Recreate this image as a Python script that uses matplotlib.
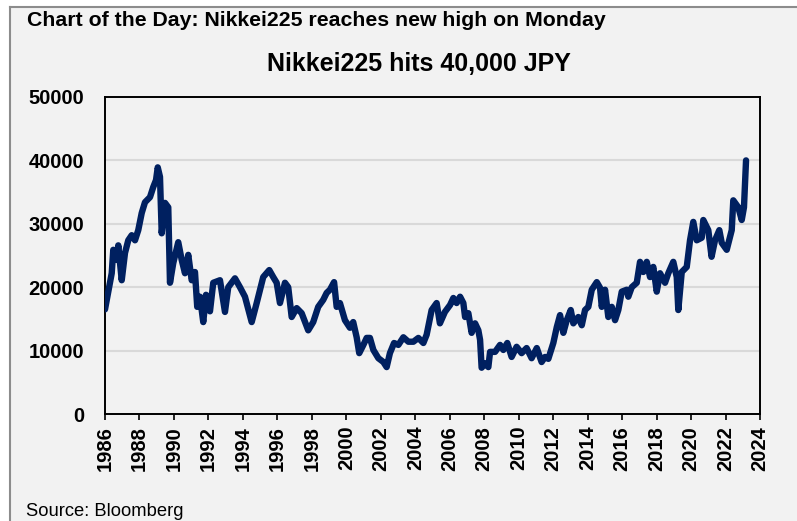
import matplotlib.pyplot as plt
from matplotlib.patches import Rectangle
from matplotlib.lines import Line2D

plt.rcParams["font.family"] = ["Liberation Sans", "DejaVu Sans"]

# ----------------------------------------------------------------------
# Data (decimal year on the chart axis, index level)
# ----------------------------------------------------------------------
years = [
    1986.00, 1986.17, 1986.39, 1986.48, 1986.68, 1986.77, 1986.97, 1987.16,
    1987.35, 1987.55, 1987.74, 1987.93, 1988.13, 1988.32, 1988.61, 1988.80,
    1988.96, 1989.06, 1989.19, 1989.29, 1989.48, 1989.67, 1989.77, 1989.96,
    1990.25, 1990.45, 1990.64, 1990.83, 1991.03, 1991.22, 1991.35, 1991.51,
    1991.70, 1991.86, 1992.09, 1992.28, 1992.67, 1992.96, 1993.15, 1993.54,
    1993.83, 1994.12, 1994.51, 1994.80, 1995.18, 1995.53, 1995.76, 1995.96,
    1996.15, 1996.44, 1996.63, 1996.83, 1997.12, 1997.41, 1997.79, 1998.08,
    1998.37, 1998.66, 1998.86, 1999.05, 1999.29, 1999.44, 1999.63, 1999.92,
    2000.21, 2000.40, 2000.60, 2000.75, 2000.99, 2001.18, 2001.37, 2001.57,
    2001.86, 2002.15, 2002.34, 2002.53, 2002.77, 2003.02, 2003.31, 2003.60,
    2003.89, 2004.18, 2004.47, 2004.66, 2004.85, 2004.95, 2005.24, 2005.43,
    2005.72, 2006.02, 2006.21, 2006.40, 2006.60, 2006.79, 2006.89, 2007.08,
    2007.27, 2007.47, 2007.66, 2007.76, 2007.85, 2008.05, 2008.24, 2008.34,
    2008.63, 2008.92, 2009.11, 2009.34, 2009.59, 2009.88, 2010.17, 2010.46,
    2010.75, 2011.05, 2011.33, 2011.53, 2011.72, 2012.01, 2012.21, 2012.40,
    2012.59, 2012.79, 2013.02, 2013.17, 2013.46, 2013.66, 2013.85, 2014.04,
    2014.24, 2014.53, 2014.72, 2014.82, 2015.01, 2015.20, 2015.40, 2015.59,
    2015.78, 2015.98, 2016.27, 2016.36, 2016.56, 2016.85, 2017.04, 2017.23,
    2017.43, 2017.62, 2017.81, 2018.01, 2018.20, 2018.49, 2018.68, 2018.97,
    2019.17, 2019.26, 2019.46, 2019.75, 2019.94, 2020.13, 2020.33, 2020.62,
    2020.71, 2021.00, 2021.19, 2021.39, 2021.64, 2021.78, 2022.07, 2022.36,
    2022.45, 2022.74, 2022.94, 2023.07, 2023.19,
]
nikkei = [
    16500, 19000, 22200, 25900, 24300, 26600, 21100, 25400,
    27400, 28200, 27400, 29000, 31700, 33400, 34200, 35800,
    36900, 38900, 37400, 28500, 33300, 32600, 20700, 23800,
    27100, 24300, 22200, 25100, 21100, 22400, 16900, 18500,
    14500, 18800, 16200, 20700, 21100, 16100, 20000, 21400,
    20000, 18500, 14500, 17500, 21600, 22700, 21600, 20700,
    17500, 20700, 20000, 15300, 16700, 15900, 13200, 14500,
    16900, 18000, 19100, 19600, 20800, 16900, 17500, 14800,
    13600, 14500, 12100, 9600, 10900, 12000, 12000, 10100,
    8800, 8200, 7400, 9600, 11200, 10900, 12100, 11400,
    11400, 12000, 11200, 12500, 15000, 16400, 17500, 14300,
    16100, 17200, 18300, 17500, 18500, 17500, 15300, 15900,
    12800, 14300, 13200, 11700, 7300, 8000, 7400, 9800,
    9800, 10900, 10100, 11200, 9000, 10600, 9600, 10400,
    8800, 10400, 8200, 9000, 8700, 11200, 13700, 15600,
    12800, 14800, 16400, 14300, 15300, 14000, 16400, 16900,
    19600, 20800, 19900, 16900, 19600, 15300, 16900, 14800,
    16400, 19300, 19600, 18500, 20000, 20700, 24000, 22400,
    24000, 21600, 23200, 19300, 22200, 20700, 22200, 24000,
    21600, 16400, 22400, 23200, 27400, 30300, 27400, 27800,
    30600, 29000, 24800, 27400, 29000, 27000, 25900, 29000,
    33700, 32600, 30600, 32600, 40000,
]

xticks = list(range(1986, 2025, 2))
yticks = [0, 10000, 20000, 30000, 40000, 50000]

header = "Chart of the Day: Nikkei225 reaches new high on Monday"
title = "Nikkei225 hits 40,000 JPY"
source = "Source: Bloomberg"

navy = "#002060"
panel = "#F2F2F2"

fig = plt.figure(figsize=(7.97, 5.21), dpi=100, facecolor="white")

# panel background with grey frame on top / left
fig.patches.append(Rectangle((10 / 797, 0), 1 - 10 / 797, 1 - 7 / 521,
                             transform=fig.transFigure, facecolor=panel,
                             edgecolor="none", zorder=-10))
fig.lines.append(Line2D([10 / 797, 1], [1 - 7 / 521, 1 - 7 / 521],
                        transform=fig.transFigure, color="#8C8C8C", lw=1.5,
                        zorder=-5))
fig.lines.append(Line2D([10 / 797, 10 / 797], [0, 1 - 7 / 521],
                        transform=fig.transFigure, color="#8C8C8C", lw=1.5,
                        zorder=-5))

ax = fig.add_axes([105 / 797, 107 / 521, 655 / 797, 317 / 521])
ax.set_zorder(1)
ax.set_facecolor(panel)

ax.plot(years, nikkei, color=navy, lw=4.6, solid_joinstyle="round",
        solid_capstyle="round", zorder=3)

ax.set_xlim(1986, 2024)
ax.set_ylim(0, 50000)
ax.set_xticks(xticks)
ax.set_xticklabels([str(t) for t in xticks], rotation=90, fontweight="bold",
                   fontsize=14.5)
ax.set_yticks(yticks)
ax.set_yticklabels([str(t) for t in yticks], fontweight="bold",
                   fontsize=14.5)

ax.tick_params(axis="x", direction="out", length=4.5, width=1.2, pad=4)
ax.tick_params(axis="y", length=0, pad=15)

for y in yticks[1:-1]:
    ax.axhline(y, color="#D9D9D9", lw=1.5, zorder=1)

for s in ax.spines.values():
    s.set_color("black")
    s.set_linewidth(1.4)

fig.text(27 / 797, 1 - 21 / 521, header, fontsize=15.3, fontweight="bold",
         ha="left", va="center")
fig.text(419 / 797, 1 - 64 / 521, title, fontsize=18, fontweight="bold",
         ha="center", va="center")
fig.text(26 / 797, 1 - 511 / 521, source, fontsize=13.2, ha="left",
         va="center")

fig.savefig("out.png", dpi=100, facecolor=fig.get_facecolor())
